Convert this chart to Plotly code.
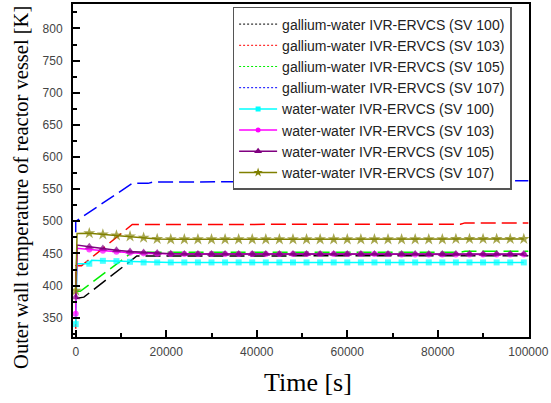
import plotly.graph_objects as go

# ---------------- data ----------------
# gallium-water IVR-ERVCS (dashed lines)
ga100_t = [0, 1800, 13500, 100000]
ga100_T = [380, 382, 446, 446.5]
ga103_t = [0, 0, 1300, 12500, 85000, 86000, 100000]
ga103_T = [300, 431, 431, 495, 495.5, 497.5, 497.5]
ga105_t = [0, 1000, 12500, 85000, 86000, 100000]
ga105_T = [391, 391, 452, 452, 453.5, 453.5]
ga107_t = [0, 0, 12500, 16000, 17000, 60000, 100000]
ga107_T = [483, 500, 559, 559, 561, 562, 563]

# water-water IVR-ERVCS (solid lines with markers); markers at every 3000 s
ww_t = [0, 300, 3000, 6000, 9000, 12000, 15000, 18000, 21000, 24000, 27000,
        30000, 33000, 36000, 39000, 42000, 45000, 48000, 51000, 54000, 57000,
        60000, 63000, 66000, 69000, 72000, 75000, 78000, 81000, 84000, 87000,
        90000, 93000, 96000, 99000]
ww100_t = [0, 300, 3000, 3500, 6000, 9000, 12000, 15000, 18000, 21000, 24000, 27000,
           30000, 33000, 36000, 39000, 42000, 45000, 48000, 51000, 54000, 57000,
           60000, 63000, 66000, 69000, 72000, 75000, 78000, 81000, 84000, 87000,
           90000, 93000, 96000, 99000]
ww100_T = [340, 434, 434, 439.5, 438.5, 438, 437, 436, 436, 436, 436, 436,
           436, 436, 436, 436, 436, 436, 436, 436, 436, 436,
           436, 436, 436, 436, 436, 436, 436, 436, 436, 436,
           436, 436, 436, 436]
ww103_T = [356, 458, 456, 454, 452.5, 451, 450, 449.5, 449, 449, 449,
           449, 449, 449, 449, 449, 449, 449, 449, 449, 449,
           449, 449, 449, 449, 448.5, 448.5, 448.5, 448.5, 448.5, 448.5,
           448.5, 448.5, 448.5, 448.5]
ww105_T = [382, 463, 460.5, 457.5, 455, 453, 451.5, 450.5, 449.5, 449, 449,
           449, 449, 449, 449, 449, 449, 449, 449, 449, 449,
           449, 449, 449, 449, 449, 449, 449, 449, 449, 449,
           449, 449, 449, 449]
ww107_T = [392, 481, 481.5, 479.5, 478, 476.5, 474.5, 472.5, 472, 472, 472,
           472, 472, 472, 472, 472, 472, 472, 472, 472, 472,
           472, 472, 472, 472, 472, 472, 472, 472, 472.5, 472.5,
           472.5, 472.5, 472.5, 472.5]

ga_names = ["gallium-water IVR-ERVCS (SV 100)", "gallium-water IVR-ERVCS (SV 103)",
            "gallium-water IVR-ERVCS (SV 105)", "gallium-water IVR-ERVCS (SV 107)"]
ww_names = ["water-water IVR-ERVCS (SV 100)", "water-water IVR-ERVCS (SV 103)",
            "water-water IVR-ERVCS (SV 105)", "water-water IVR-ERVCS (SV 107)"]
ga_colors = ["#000000", "#ff0000", "#00ee00", "#0000ff"]
ww_colors = ["#00ffff", "#ff00ff", "#800080", "#808000"]
ww_symbols = ["square", "circle", "triangle-up", "star"]
ww_msize = [6, 6, 8, 9]
ww_lsize = [5, 5, 7, 7]

ga_series = [(ga100_t, ga100_T), (ga103_t, ga103_T), (ga105_t, ga105_T), (ga107_t, ga107_T)]
ww_series = [(ww100_t, ww100_T), (ww_t, ww103_T), (ww_t, ww105_T), (ww_t, ww107_T)]

fig = go.Figure()

# legend entries
for name, c in zip(ga_names, ga_colors):
    fig.add_trace(go.Scatter(x=[None], y=[None], mode="lines", name=name,
                             line=dict(color=c, width=1, dash="2px,2px")))
for name, c, s, ls in zip(ww_names, ww_colors, ww_symbols, ww_lsize):
    fig.add_trace(go.Scatter(x=[None], y=[None], mode="lines+markers", name=name,
                             line=dict(color=c, width=1.5),
                             marker=dict(symbol=s, size=ls, color=c)))

# plotted curves
for (t, T), c in zip(ga_series, ga_colors):
    fig.add_trace(go.Scatter(x=t, y=T, mode="lines", showlegend=False,
                             line=dict(color=c, width=1.5, dash="15px,6px")))
for (t, T), c, s, ms in zip(ww_series, ww_colors, ww_symbols, ww_msize):
    sizes = [ms if tt % 3000 == 0 else 0 for tt in t]
    fig.add_trace(go.Scatter(x=t, y=T, mode="lines+markers", showlegend=False,
                             line=dict(color=c, width=1.5),
                             marker=dict(symbol=s, size=sizes, color=c, line=dict(width=0))))

tickfont = dict(family="Liberation Sans, Arial", size=12, color="#444444")
serif = "Liberation Serif, Times New Roman"

fig.update_layout(
    width=551, height=403,
    margin=dict(l=73, r=21, t=2, b=66),
    paper_bgcolor="white", plot_bgcolor="white",
    xaxis=dict(range=[-600, 100150], tick0=0, dtick=20000, tickformat="d",
               ticks="inside", ticklen=7, ticklabelstandoff=3,
               tickwidth=1.5, tickcolor="black", showline=True, linewidth=2,
               linecolor="black", mirror=True, showgrid=False, zeroline=False,
               minor=dict(dtick=10000, tick0=0, ticks="inside", ticklen=4, tickcolor="black",
                          tickwidth=1.5, showgrid=False),
               tickfont=tickfont),
    xaxis2=dict(range=[-600, 100150], overlaying="x", side="top", anchor="y",
                tick0=0, dtick=10000, ticks="inside", ticklen=5, tickwidth=1.5,
                tickcolor="black", showticklabels=False, showline=False,
                showgrid=False, zeroline=False),
    yaxis=dict(range=[320, 838], tick0=350, dtick=50, ticks="inside", ticklen=7,
               ticklabelstandoff=6,
               tickwidth=1.5, tickcolor="black", showline=True, linewidth=2,
               linecolor="black", mirror=True, showgrid=False, zeroline=False,
               minor=dict(dtick=25, tick0=0, ticks="inside", ticklen=4, tickcolor="black",
                          tickwidth=1.5, showgrid=False),
               tickfont=tickfont),
    legend=dict(x=0.35, y=0.991, xanchor="left", yanchor="top",
                bordercolor="#555555", borderwidth=1.5, bgcolor="white",
                font=dict(family="Liberation Sans, Arial", size=14, color="#222222"),
                tracegroupgap=0, itemwidth=38),
    annotations=[
        dict(text="Time [s]", xref="paper", yref="paper", x=0.516, y=-0.137,
             xanchor="center", yanchor="middle", showarrow=False,
             font=dict(family=serif, size=26, color="black")),
        dict(text="Outer wall temperature of reactor vessel [K]", xref="paper", yref="paper",
             x=-0.1116, y=0.448, xanchor="center", yanchor="middle", textangle=-90,
             showarrow=False, font=dict(family=serif, size=20.5, color="black")),
    ],
)

fig.write_html("out.html")
